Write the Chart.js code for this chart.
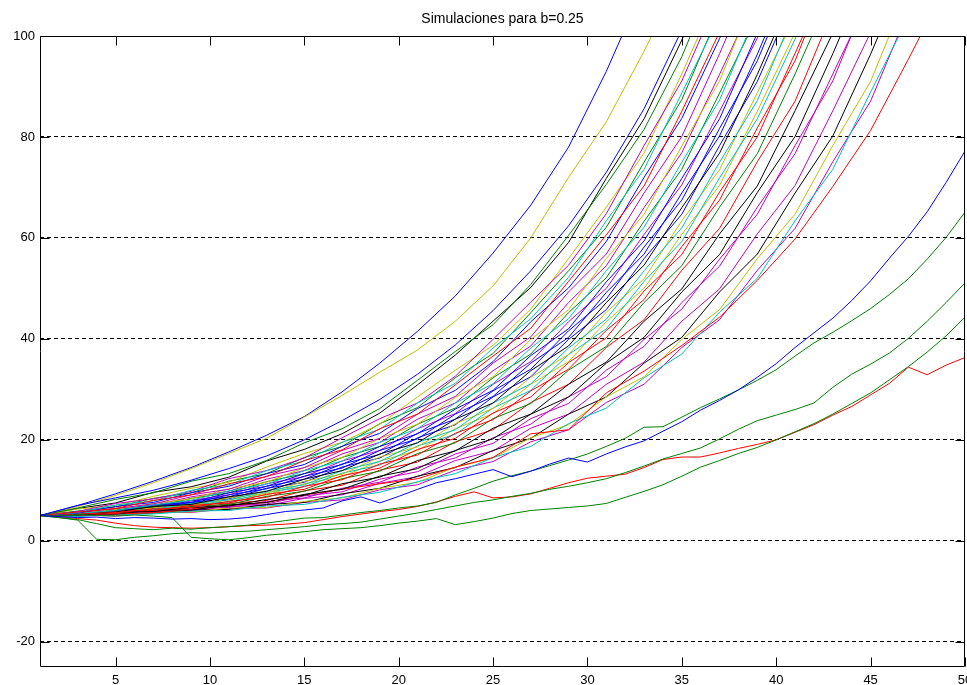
<!DOCTYPE html>
<html>
<head>
<meta charset="utf-8">
<script src="https://cdn.jsdelivr.net/npm/chart.js@4/dist/chart.umd.min.js"></script>
<style>
  html, body { margin: 0; padding: 0; background: #fff; }
  #wrap { width: 967px; height: 685px; }
</style>
</head>
<body>
<div id="wrap"><canvas id="sims" width="967" height="685"></canvas></div>
<script>
// time steps: most runs read every 2 steps, the slow ones every step
const stepsOdd = [1, 3, 5, 7, 9, 11, 13, 15, 17, 19, 21, 23, 25, 27, 29, 31, 33, 35, 37, 39, 41, 43, 45, 47, 49];
const stepsAll = [1, 2, 3, 4, 5, 6, 7, 8, 9, 10, 11, 12, 13, 14, 15, 16, 17, 18, 19, 20,
  21, 22, 23, 24, 25, 26, 27, 28, 29, 30, 31, 32, 33, 34, 35, 36, 37, 38, 39, 40,
  41, 42, 43, 44, 45, 46, 47, 48, 49, 50];

const yTicks = [-20, 0, 20, 40, 60, 80, 100];
const xTicks = [5, 10, 15, 20, 25, 30, 35, 40, 45, 50];

// fastest two runs
const simTopBlue = [5, 7.0, 9.3, 11.8, 14.5, 17.6, 20.9, 24.6, 29.5, 35.2, 41.5, 48.5, 57.0, 66.5, 78.0, 93.0, 110];
const simTopYellow = [5, 6.8, 9.0, 11.5, 14.3, 17.3, 20.3, 24.5, 28.8, 33.4, 37.8, 43.5, 50.5, 60.0, 72.0, 83.0, 97.0, 112];

// main bundle (every 2 steps, until they leave the top)
const sim01 = [5, 7.0, 8.5, 10.0, 12.0, 14.3, 16.8, 20.0, 23.8, 28.0, 33.0, 38.8, 45.6, 53.5, 62.4, 73.0, 85.6, 101.2, 119];
const sim02 = [5, 6.4, 7.5, 9.6, 10.7, 12.6, 15.8, 18.1, 21.2, 25.3, 30.9, 36.8, 43.5, 50.2, 59.1, 71.8, 83.6, 99.2, 118];
const sim03 = [5, 6.5, 8.2, 9.5, 11.8, 13.3, 15.9, 19.4, 22.2, 26.2, 31.8, 37.5, 42.8, 50.8, 60.5, 70.6, 81.5, 95.9, 114];
const sim04 = [5, 6.3, 7.0, 8.8, 10.4, 11.6, 14.6, 17.3, 19.5, 23.1, 28.5, 33.8, 38.7, 45.9, 55.9, 66.1, 76.8, 92.5, 109.5];
const sim05 = [5, 5.8, 7.4, 8.3, 9.8, 12.3, 13.9, 16.4, 20.4, 24.2, 27.3, 32.6, 39.9, 47.3, 54.6, 64.8, 78.3, 91.1, 108.2];
const sim06 = [5, 5.9, 6.7, 8.4, 9.5, 11.8, 13.3, 16.5, 18.7, 23.2, 26.4, 32.3, 37.1, 45.2, 53.5, 62.1, 75.0, 87.4, 104.8];
const sim07 = [5, 5.6, 7.1, 7.9, 10.0, 11.1, 13.9, 15.8, 19.5, 22.1, 27.3, 31.2, 38.2, 44.0, 52.2, 63.4, 73.6, 88.7, 103.9];
const sim08 = [5, 5.7, 6.4, 8.0, 9.1, 11.3, 12.7, 15.9, 18.0, 22.2, 25.1, 30.9, 36.6, 42.1, 51.4, 60.6, 70.3, 85.1, 100.8, 119];
const sim09 = [5, 5.5, 6.8, 7.6, 9.5, 10.8, 13.3, 15.1, 18.7, 21.3, 26.2, 29.8, 35.5, 43.4, 50.1, 59.3, 72.0, 83.7, 99.5, 118];
const sim10 = [5, 5.6, 6.4, 7.3, 9.1, 10.2, 12.8, 14.5, 17.9, 20.3, 25.1, 28.6, 35.2, 40.4, 49.3, 56.8, 68.9, 80.1, 96.5, 114];
const sim11 = [5, 5.5, 6.2, 7.4, 8.3, 10.3, 11.6, 14.5, 16.5, 20.3, 23.1, 28.4, 32.5, 39.9, 45.8, 55.9, 64.7, 78.2, 91.1, 109.5];
const sim12 = [5, 5.3, 6.4, 7.0, 8.7, 9.8, 12.2, 13.9, 17.2, 19.5, 24.1, 27.3, 33.7, 38.6, 47.2, 54.5, 66.0, 76.9, 92.4, 108.4];
const sim13 = [5, 5.4, 6.0, 7.1, 8.0, 9.9, 11.2, 13.9, 15.8, 19.5, 22.2, 27.3, 31.1, 38.2, 44.0, 53.5, 62.1, 75.0, 87.3, 105];
const sim14 = [5, 5.2, 6.3, 6.7, 8.4, 9.5, 11.7, 13.3, 16.5, 18.7, 23.1, 26.3, 32.3, 37.0, 45.2, 52.1, 63.3, 73.6, 88.7, 103.8];
const sim15 = [5, 5.5, 6.0, 7.1, 7.6, 9.5, 10.8, 13.3, 15.1, 18.7, 21.2, 26.1, 29.8, 36.7, 42.0, 51.3, 59.4, 71.8, 83.6, 100.6, 119];
const sim16 = [5, 5.3, 6.3, 6.7, 8.0, 9.1, 11.3, 12.7, 15.8, 17.9, 22.2, 25.2, 31.0, 35.5, 43.4, 50.0, 60.7, 70.5, 85.1, 99.6, 118];
const sim17 = [5, 5.4, 5.8, 6.9, 7.4, 9.1, 10.3, 12.8, 14.4, 17.9, 20.2, 25.1, 28.6, 35.2, 40.3, 49.2, 56.8, 68.9, 80.2, 96.4, 114];
const sim18 = [5, 5.7, 6.2, 6.6, 7.9, 8.7, 10.8, 12.2, 15.2, 17.1, 21.3, 24.1, 29.7, 34.0, 41.6, 47.9, 58.2, 67.5, 81.7, 95.1, 113];
const sim19 = [5, 5.3, 5.7, 6.8, 7.2, 8.7, 9.8, 12.2, 13.9, 17.2, 19.4, 24.1, 27.3, 33.7, 38.6, 47.2, 54.6, 66.0, 76.8, 92.4, 109.5];
const sim20 = [5, 5.1, 6.1, 6.4, 7.6, 8.3, 10.4, 11.6, 14.6, 16.4, 20.4, 23.0, 28.5, 32.5, 39.9, 45.8, 55.9, 64.7, 78.3, 91.0, 108.2];
const sim21 = [5, 5.2, 5.9, 6.2, 7.4, 8.1, 9.9, 11.1, 13.9, 15.7, 19.5, 22.0, 27.3, 31.1, 38.2, 43.9, 53.5, 62.0, 75.0, 87.2, 105];
const sim22 = [5, 5.5, 5.6, 6.6, 7.0, 8.5, 9.4, 11.8, 13.2, 16.6, 18.6, 23.2, 26.2, 32.4, 36.9, 45.3, 51.9, 63.4, 73.5, 88.8, 103.8];
const sim23 = [5, 5.4, 5.6, 6.5, 6.8, 8.1, 9.1, 11.3, 12.7, 15.8, 17.9, 22.2, 25.2, 31.0, 35.5, 43.4, 50.0, 60.7, 70.4, 85.1, 100.7, 119];
const sim24 = [5, 5.1, 6.0, 6.2, 7.2, 7.7, 9.6, 10.7, 13.4, 15.0, 18.8, 21.1, 26.3, 29.8, 36.9, 42.0, 51.4, 59.3, 71.9, 83.6, 99.4, 118];
const sim25 = [5, 5.3, 5.6, 6.3, 6.6, 7.8, 8.6, 10.8, 12.1, 15.2, 17.0, 21.3, 24.0, 29.7, 34.0, 41.7, 47.8, 58.3, 67.5, 81.8, 95.1, 114];
const sim26 = [5, 5.6, 5.9, 6.0, 7.0, 7.5, 9.2, 10.2, 12.9, 14.4, 18.1, 20.3, 25.3, 28.5, 35.3, 40.2, 49.5, 56.7, 69.1, 80.0, 96.6, 113];
const sim27 = [5, 5.2, 5.8, 6.0, 6.8, 7.2, 8.8, 9.8, 12.3, 13.8, 17.3, 19.4, 24.2, 27.2, 33.8, 38.5, 47.2, 54.5, 66.1, 76.7, 92.5, 109.4];
const sim28 = [5, 5.4, 5.4, 6.2, 6.3, 7.4, 8.0, 9.9, 11.0, 14.0, 15.6, 19.6, 22.0, 27.4, 31.0, 38.3, 43.8, 53.6, 61.9, 75.1, 87.1, 105];
const sim29 = [5, 5.1, 5.7, 5.8, 6.6, 6.9, 8.2, 9.0, 11.3, 12.6, 15.9, 17.8, 22.3, 25.1, 31.0, 35.4, 43.5, 49.9, 60.8, 70.3, 85.2, 100.6, 119];
const sim30 = [5, 5.4, 5.3, 6.1, 6.1, 7.1, 7.6, 9.2, 10.2, 12.8, 14.3, 17.9, 20.2, 25.1, 28.5, 35.2, 40.3, 49.3, 56.7, 69.0, 80.1, 96.5, 114];
const sim31 = [5, 5.0, 5.6, 5.7, 6.5, 6.6, 7.8, 8.5, 10.4, 11.6, 14.6, 16.4, 20.4, 23.1, 28.5, 32.5, 39.9, 45.9, 55.8, 64.7, 78.3, 91.1, 109.5];
const sim32 = [5, 5.4, 5.3, 6.2, 6.0, 7.0, 7.3, 8.9, 9.7, 12.2, 13.7, 17.2, 19.3, 24.2, 27.2, 33.8, 38.5, 47.2, 54.4, 66.1, 76.7, 92.5, 108.2];
const sim33 = [5, 5.3, 5.2, 5.9, 5.9, 6.8, 7.0, 8.4, 9.1, 11.4, 12.7, 15.9, 17.8, 22.3, 25.1, 31.0, 35.4, 43.5, 49.9, 60.8, 70.4, 85.2, 100.7, 119];
const sim34 = [5, 4.9, 5.4, 5.5, 6.1, 6.2, 7.2, 7.6, 9.3, 10.4, 12.8, 14.5, 17.9, 20.3, 25.1, 28.5, 35.2, 40.3, 49.3, 56.8, 68.9, 80.2, 96.4, 114];
const sim35 = [5, 5.2, 5.1, 5.7, 5.7, 6.5, 6.6, 7.8, 8.5, 10.4, 11.6, 14.6, 16.4, 20.4, 23.0, 28.5, 32.5, 39.9, 45.8, 55.9, 64.7, 78.3, 91.0, 109.3];
const sim36 = [5, 4.8, 5.2, 5.3, 5.9, 6.0, 6.9, 7.2, 8.6, 9.6, 11.7, 13.3, 16.5, 18.7, 23.2, 26.3, 32.3, 37.0, 45.3, 52.0, 63.4, 73.6, 88.9, 103.7];
const sim37 = [5, 5.2, 4.9, 5.6, 5.6, 6.4, 6.5, 7.6, 8.1, 10.1, 11.1, 14.0, 15.7, 19.6, 22.0, 27.4, 31.0, 38.3, 43.8, 53.6, 61.9, 75.1, 87.1, 105];
const sim38 = [5, 5.1, 5.3, 5.6, 6.2, 7.0, 7.6, 9.1, 10.2, 11.3, 12.3, 14.6, 16.5, 21.2, 22.0, 29.3, 33.6, 38.7, 44.3, 51.6, 59.8, 70.2, 81.3, 95.4, 110];

// the slow runs that stay low (every step)
const simLowBlue = [5, 4.8, 4.6, 4.7, 4.4, 4.6, 4.5, 4.3, 4.4, 4.2, 4.3, 4.6, 5.2, 5.8, 6.1, 6.5, 7.9, 8.7, 7.5, 8.8,
  10.2, 11.5, 12.3, 13.2, 14.1, 12.7, 13.8, 15.2, 16.4, 15.6, 17.2, 18.6, 19.8, 21.7, 23.6, 25.9, 27.8, 29.9, 32.4, 35.1,
  38.3, 41.2, 44.1, 47.6, 51.5, 56.0, 60.3, 65.2, 71.0, 77.2];
const simLowGreenA = [5, 4.6, 4.2, 3.4, 2.6, 2.4, 2.2, 2.5, 2.3, 2.6, 2.8, 3.1, 3.5, 4.0, 4.5, 4.6, 5.1, 5.6, 6.0, 6.5,
  6.9, 7.6, 9.1, 10.4, 11.8, 12.9, 13.8, 14.9, 16.0, 17.2, 18.7, 20.3, 22.5, 22.6, 24.5, 26.4, 28.1, 29.9, 31.8, 33.9,
  36.6, 39.2, 41.3, 43.6, 46.0, 48.8, 51.9, 55.8, 60.1, 65.1];
const simLowGreenB = [5, 4.6, 4.1, 0.3, 0.2, 0.7, 1.0, 1.4, 1.6, 1.5, 1.8, 1.9, 2.2, 2.5, 2.8, 3.2, 3.4, 3.7, 4.3, 4.9,
  5.5, 6.2, 6.9, 7.6, 8.1, 8.8, 9.4, 10.2, 10.8, 11.5, 12.3, 13.5, 14.8, 16.2, 17.3, 18.4, 20.2, 22.1, 23.8, 24.9,
  26.0, 27.3, 30.4, 33.0, 35.0, 37.2, 40.1, 43.5, 47.2, 51.1];
const simLowGreenC = [5, 4.9, 5.2, 5.0, 4.9, 5.1, 4.9, 4.6, 0.7, 0.4, 0.2, 0.6, 1.1, 1.4, 1.8, 2.2, 2.4, 2.6, 3.0, 3.5,
  3.9, 4.4, 3.2, 3.8, 4.5, 5.4, 6.0, 6.3, 6.6, 6.9, 7.4, 8.6, 9.8, 11.1, 12.8, 14.6, 15.9, 17.3, 18.5, 20.0,
  21.6, 23.2, 25.1, 27.2, 29.3, 31.9, 34.5, 37.4, 40.6, 44.3];
const simLowRed = [5, 4.8, 4.4, 4.1, 3.5, 3.0, 2.7, 2.6, 2.5, 2.6, 2.8, 3.0, 3.1, 3.3, 3.6, 4.2, 4.8, 5.3, 5.8, 6.2,
  6.8, 7.7, 8.8, 9.7, 8.5, 8.7, 9.3, 10.4, 11.5, 12.4, 12.8, 13.2, 14.5, 16.1, 16.6, 16.6, 17.4, 18.3, 19.1, 20.0,
  21.5, 23.0, 24.9, 26.6, 28.9, 31.2, 34.4, 32.9, 34.8, 36.3];

// matlab line colours
const matlab = { b: '#0000ff', g: '#008000', r: '#ff0000', c: '#00bfbf', m: '#bf00bf', y: '#bfbf00', k: '#000000' };

const runs = [
  [simLowBlue, stepsAll, 'b'], [simLowGreenA, stepsAll, 'g'], [simLowGreenB, stepsAll, 'g'],
  [simLowGreenC, stepsAll, 'g'], [simLowRed, stepsAll, 'r'],
  [sim01, stepsOdd, 'b'], [sim03, stepsOdd, 'g'], [sim08, stepsOdd, 'r'], [sim07, stepsOdd, 'c'],
  [sim05, stepsOdd, 'm'], [sim04, stepsOdd, 'y'], [sim02, stepsOdd, 'k'],
  [sim09, stepsOdd, 'b'], [sim06, stepsOdd, 'g'], [sim25, stepsOdd, 'r'], [sim13, stepsOdd, 'c'],
  [sim10, stepsOdd, 'm'], [sim11, stepsOdd, 'y'], [sim19, stepsOdd, 'k'],
  [sim15, stepsOdd, 'b'], [sim14, stepsOdd, 'g'], [sim26, stepsOdd, 'r'], [sim21, stepsOdd, 'c'],
  [sim12, stepsOdd, 'm'], [sim22, stepsOdd, 'y'], [sim29, stepsOdd, 'k'],
  [sim17, stepsOdd, 'b'], [sim27, stepsOdd, 'g'], [sim28, stepsOdd, 'r'], [sim24, stepsOdd, 'c'],
  [sim16, stepsOdd, 'm'], [sim23, stepsOdd, 'y'], [sim30, stepsOdd, 'k'],
  [sim18, stepsOdd, 'b'], [sim38, stepsOdd, 'r'], [sim36, stepsOdd, 'c'],
  [sim31, stepsOdd, 'm'], [sim35, stepsOdd, 'y'], [sim34, stepsOdd, 'k'],
  [sim20, stepsOdd, 'b'], [sim32, stepsOdd, 'm'], [sim33, stepsOdd, 'm'], [sim37, stepsOdd, 'm'],
  [simTopYellow, stepsOdd, 'y'], [simTopBlue, stepsOdd, 'b'],
];

const toPoints = (vals, steps) => vals.map((v, i) => ({ x: steps[i], y: v }));

const tickFont = { family: "'Liberation Sans', Arial, sans-serif", size: 13 };

// box round the plot with short inward ticks on all four sides, like matlab
const axesBox = {
  id: 'axesBox',
  afterDatasetsDraw(chart) {
    const { ctx, chartArea: a, scales: { x, y } } = chart;
    const L = Math.round(a.left) + 0.5, R = Math.round(a.right) - 0.5;
    const T = Math.round(a.top) + 0.5, B = Math.round(a.bottom) - 0.5;
    ctx.save();
    ctx.strokeStyle = '#000';
    ctx.lineWidth = 1;
    ctx.beginPath();
    ctx.rect(L, T, R - L, B - T);
    xTicks.forEach((t) => {
      const px = Math.round(x.getPixelForValue(t)) + 0.5;
      ctx.moveTo(px, B); ctx.lineTo(px, B - 9);
      ctx.moveTo(px, T); ctx.lineTo(px, T + 9);
    });
    yTicks.forEach((t) => {
      const py = Math.round(y.getPixelForValue(t)) + 0.5;
      ctx.moveTo(L, py); ctx.lineTo(L + 9, py);
      ctx.moveTo(R, py); ctx.lineTo(R - 9, py);
    });
    ctx.stroke();
    ctx.restore();
  },
};

new Chart(document.getElementById('sims'), {
  type: 'line',
  data: {
    datasets: runs.map(([vals, steps, c]) => ({
      data: toPoints(vals, steps),
      borderColor: matlab[c],
      borderWidth: 1,
      pointRadius: 0,
      tension: 0,
      fill: false,
    })),
  },
  options: {
    responsive: false,
    animation: false,
    events: [],
    layout: { padding: { top: 0, left: 0, right: 2, bottom: 0 } },
    plugins: {
      legend: { display: false },
      tooltip: { enabled: false },
      title: {
        display: true,
        text: 'Simulaciones para b=0.25',
        fullSize: false,
        color: '#000',
        font: { family: "'Liberation Sans', Arial, sans-serif", size: 14, weight: 'normal' },
        padding: { top: 11, bottom: 8.2 },
      },
    },
    scales: {
      x: {
        type: 'linear',
        min: 1,
        max: 50,
        grid: { display: false, drawTicks: false },
        border: { display: false },
        ticks: { stepSize: 5, includeBounds: false, padding: 6, color: '#000', font: tickFont, maxRotation: 0, autoSkip: false },
        afterFit(s) { s.height = 18; s.paddingLeft = 0; s.paddingRight = 0; },
      },
      y: {
        min: -25,
        max: 100,
        grid: { color: '#000', lineWidth: 1, drawTicks: false },
        border: { display: false, dash: [4, 3] },
        ticks: { stepSize: 20, includeBounds: false, padding: 5, color: '#000', font: tickFont },
        afterFit(s) { s.width = 40; s.paddingTop = 0; s.paddingBottom = 0; },
      },
    },
  },
  plugins: [axesBox],
});
</script>
</body>
</html>
